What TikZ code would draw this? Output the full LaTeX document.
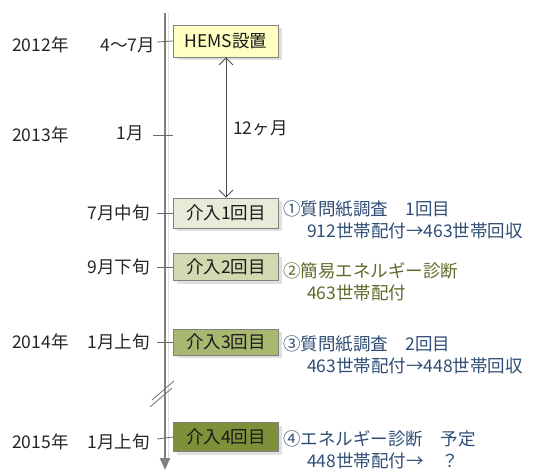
\documentclass[tikz,border=0pt]{standalone}
\usepackage{fontspec}
\setmainfont{Noto Sans CJK JP}
\usetikzlibrary{arrows.meta,shadows}
\definecolor{bluetxt}{HTML}{2F4D75}
\definecolor{olivetxt}{HTML}{5E6A2A}
\definecolor{boxA}{HTML}{FFFFC2}
\definecolor{boxB}{HTML}{E7ECD8}
\definecolor{boxC}{HTML}{D0D9AF}
\definecolor{boxD}{HTML}{A9B870}
\definecolor{boxE}{HTML}{7F903B}
\tikzset{
  evbox/.style={draw=black!50, line width=0.8pt, minimum width=105pt, minimum height=30pt,
    inner sep=0pt, font=\fontsize{17.5}{20}\selectfont, text=black!90,
    drop shadow={shadow xshift=3pt, shadow yshift=-3pt, fill=black!12, opacity=1}},
  lab/.style={font=\fontsize{17.5}{20}\selectfont, text=black!85, inner sep=0pt},
  desc/.style={font=\fontsize{17.5}{22}\selectfont, text=bluetxt, inner sep=0pt, anchor=north west, align=left},
  tick/.style={draw=black!60, line width=0.8pt},
}
\begin{document}
\begin{tikzpicture}[x=1pt,y=-1pt]
\useasboundingbox (0,0) rectangle (534,470);
% timeline
\coordinate (ttop) at (165,13);
\coordinate (tbot) at (165,470);
\draw[black!12, line width=1pt] (168,13) -- (168,458);
\draw[black!50, line width=2pt, -{Triangle[length=12pt,width=10pt]}] (ttop) -- (tbot);
% break marks
\draw[black!55, line width=0.8pt] (152,400) -- (174,381);
\draw[black!55, line width=0.8pt] (150,407) -- (172,388);
% boxes
\node[evbox, fill=boxA, minimum height=32pt] (hems) at (226,41) {HEMS設置};
\node[evbox, fill=boxB] (k1) at (226,213) {介入1回目};
\node[evbox, fill=boxC, minimum height=27pt] (k2) at (226,267) {介入2回目};
\node[evbox, fill=boxD, minimum height=26pt] (k3) at (226,342) {介入3回目};
\node[evbox, fill=boxE, minimum height=29pt] (k4) at (226,437) {介入4回目};
% ticks
\coordinate (t0) at (157,42); \draw[tick] (t0) -- (hems.west);
\coordinate (t1a) at (153,135); \coordinate (t1b) at (173,135); \draw[tick] (t1a) -- (t1b);
\coordinate (t2) at (157,213); \draw[tick] (t2) -- (k1.west);
\coordinate (t3) at (157,267); \draw[tick] (t3) -- (k2.west);
\coordinate (t4) at (157,342); \draw[tick] (t4) -- (k3.west);
\coordinate (t5) at (157,439); \draw[tick] (t5) -- (k4.west);
% double arrow
\draw[black!70, line width=0.8pt, {Straight Barb[length=7pt,width=14pt]}-{Straight Barb[length=7pt,width=14pt]}] (hems.south) -- (k1.north);
\node[lab, anchor=west] (m12) at (233,128) {12ヶ月};
% left labels
\node[lab, anchor=west] (y12) at (12,45) {2012年};
\node[lab, anchor=east] (d12) at (155,45) {4～7月};
\node[lab, anchor=west] (y13) at (12,135) {2013年};
\node[lab, anchor=east] (d13) at (144,133) {1月};
\node[lab, anchor=east] (d7) at (150,213) {7月中旬};
\node[lab, anchor=east] (d9) at (150,267) {9月下旬};
\node[lab, anchor=west] (y14) at (12,342) {2014年};
\node[lab, anchor=east] (d14) at (150,342) {1月上旬};
\node[lab, anchor=west] (y15) at (12,442) {2015年};
\node[lab, anchor=east] (d15) at (150,442) {1月上旬};
% descriptions
\node[desc] (e1) at (283,200) {①質問紙調査　1回目\\\hspace*{24pt}912世帯配付→463世帯回収};
\node[desc, text=olivetxt] (e2) at (283,262) {②簡易エネルギー診断\\\hspace*{24pt}463世帯配付};
\node[desc] (e3) at (283,335) {③質問紙調査　2回目\\\hspace*{24pt}463世帯配付→448世帯回収};
\node[desc] (e4) at (283,430) {④エネルギー診断　予定\\\hspace*{24pt}448世帯配付→　？};
\end{tikzpicture}
\end{document}
